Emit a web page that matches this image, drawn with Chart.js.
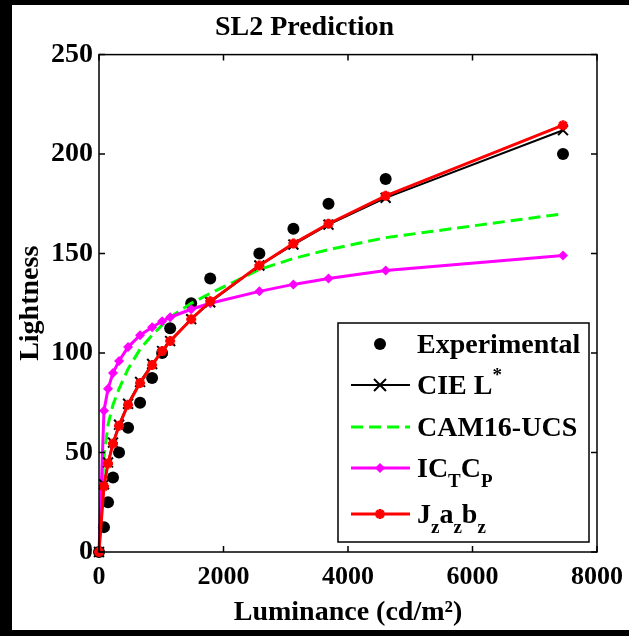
<!DOCTYPE html>
<html>
<head>
<meta charset="utf-8">
<script src="https://cdn.jsdelivr.net/npm/chart.js@4/dist/chart.umd.min.js"></script>
<style>
html, body { margin: 0; padding: 0; background: #000; }
#wrap { position: absolute; left: 12px; top: 5px; width: 617px; height: 625px; background: #fff; }
</style>
</head>
<body>
<div id="wrap"><canvas id="sl2Chart" width="617" height="625"></canvas></div>
<script>
// values
const luminance    = [0, 80, 145, 225, 322, 467, 660, 853, 1014, 1143, 1481, 1787, 2576, 3123, 3687, 4605, 7454];
const experimental = [0, 12.5, 25, 37.5, 50, 62.5, 75, 87.5, 100, 112.5, 125, 137.5, 150, 162.5, 175, 187.5, 200];
const cieL         = [0, 34, 45, 55, 64, 74.5, 85.5, 94.5, 101, 106, 117, 125.5, 144, 154.5, 164.5, 178, 212];
const cam16        = [0, 48, 64, 74, 82, 92, 102, 109, 114, 118, 125, 130, 142, 147.5, 152, 158, 170];
const ictcp        = [0, 71, 82, 90, 96, 103, 109, 113, 116, 118, 122, 125, 131, 134.5, 137.5, 141.5, 149];
const jzazbz       = [0, 33, 44.5, 54.5, 63.5, 74, 85, 94, 101, 106, 117, 126, 144, 155, 165, 179, 214.5];
const xTicks = [0, 2000, 4000, 6000, 8000];
const yTicks = [0, 50, 100, 150, 200, 250];

const FONT = '"Liberation Serif", "Times New Roman", serif';

function pts(ys) {
    return luminance.map((x, i) => ({ x: x, y: ys[i] }));
}

// legend entries, parts with sub/sup
const legendItems = [
    { parts: [['Experimental', 0]], kind: 'dot' },
    { parts: [['CIE L', 0], ['*', -1]], kind: 'cie' },
    { parts: [['CAM16-UCS', 0]], kind: 'cam' },
    { parts: [['IC', 0], ['T', 1], ['C', 0], ['P', 1]], kind: 'ictcp' },
    { parts: [['J', 0], ['z', 1], ['a', 0], ['z', 1], ['b', 0], ['z', 1]], kind: 'jz' }
];

function drawMarker(ctx, kind, x, y) {
    ctx.save();
    if (kind === 'dot') {
        ctx.fillStyle = '#000';
        ctx.beginPath(); ctx.arc(x, y, 6, 0, Math.PI * 2); ctx.fill();
    } else if (kind === 'cie') {
        ctx.strokeStyle = '#000'; ctx.lineWidth = 2;
        ctx.beginPath();
        ctx.moveTo(x - 6, y - 6); ctx.lineTo(x + 6, y + 6);
        ctx.moveTo(x - 6, y + 6); ctx.lineTo(x + 6, y - 6);
        ctx.stroke();
    } else if (kind === 'ictcp') {
        ctx.fillStyle = '#ff00ff';
        ctx.beginPath();
        ctx.moveTo(x, y - 5); ctx.lineTo(x + 5, y); ctx.lineTo(x, y + 5); ctx.lineTo(x - 5, y);
        ctx.closePath(); ctx.fill();
    } else if (kind === 'jz') {
        ctx.strokeStyle = '#ff0000'; ctx.lineWidth = 3;
        ctx.beginPath();
        for (let k = 0; k < 4; k++) {
            const a = k * Math.PI / 4;
            ctx.moveTo(x - 5 * Math.cos(a), y - 5 * Math.sin(a));
            ctx.lineTo(x + 5 * Math.cos(a), y + 5 * Math.sin(a));
        }
        ctx.stroke();
    }
    ctx.restore();
}

const boxPlugin = {
    id: 'boxPlugin',
    afterDraw(chart) {
        const ctx = chart.ctx;
        const a = chart.chartArea;
        const xs = chart.scales.x, ys = chart.scales.y;
        const tl = 6;
        ctx.save();
        ctx.strokeStyle = '#000';
        ctx.lineWidth = 1.5;
        ctx.strokeRect(a.left, a.top, a.right - a.left, a.bottom - a.top);
        ctx.beginPath();
        xTicks.forEach(v => {
            const px = xs.getPixelForValue(v);
            ctx.moveTo(px, a.bottom); ctx.lineTo(px, a.bottom - tl);
            ctx.moveTo(px, a.top); ctx.lineTo(px, a.top + tl);
        });
        yTicks.forEach(v => {
            const py = ys.getPixelForValue(v);
            ctx.moveTo(a.left, py); ctx.lineTo(a.left + tl, py);
            ctx.moveTo(a.right, py); ctx.lineTo(a.right - tl, py);
        });
        ctx.stroke();

        // legend box
        const w = 251, h = 219;
        const bx = a.right - 8 - w, by = a.bottom - 10 - h;
        ctx.fillStyle = '#fff';
        ctx.fillRect(bx, by, w, h);
        ctx.strokeRect(bx, by, w, h);
        const rows = [21, 62, 104, 145, 191];
        legendItems.forEach((it, i) => {
            const y = by + rows[i];
            if (it.kind !== 'dot') {
                ctx.save();
                ctx.lineWidth = it.kind === 'cie' ? 2 : 3;
                ctx.strokeStyle = { cie: '#000', cam: '#00ff00', ictcp: '#ff00ff', jz: '#ff0000' }[it.kind];
                if (it.kind === 'cam') ctx.setLineDash([12, 6]);
                ctx.beginPath();
                ctx.moveTo(bx + 13, y); ctx.lineTo(bx + 72, y);
                ctx.stroke();
                ctx.restore();
            }
            drawMarker(ctx, it.kind, bx + 42, y);
            let tx = bx + 79;
            ctx.fillStyle = '#000';
            ctx.textBaseline = 'alphabetic';
            it.parts.forEach(([t, pos]) => {
                const size = pos === 0 ? 28 : 19;
                ctx.font = 'bold ' + size + 'px ' + FONT;
                const ty = y + 9 + (pos === 1 ? 10 : pos === -1 ? -13 : 0);
                ctx.fillText(t, tx, ty);
                tx += ctx.measureText(t).width;
            });
        });
        ctx.restore();
    }
};

const ctx = document.getElementById('sl2Chart').getContext('2d');
const sl2Chart = new Chart(ctx, {
    type: 'scatter',
    data: {
        datasets: [
            {
                label: 'Jzazbz', data: pts(jzazbz), showLine: true,
                borderColor: '#ff0000', backgroundColor: '#ff0000', borderWidth: 3,
                pointStyle: 'star', pointRadius: 5, pointBorderWidth: 3, pointBorderColor: '#ff0000',
                order: 0, clip: false
            },
            {
                label: 'CIE L*', data: pts(cieL), showLine: true,
                borderColor: '#000', backgroundColor: '#000', borderWidth: 2,
                pointStyle: 'crossRot', pointRadius: 7, pointBorderWidth: 2,
                order: 1, clip: false
            },
            {
                label: 'ICtCp', data: pts(ictcp), showLine: true,
                borderColor: '#ff00ff', backgroundColor: '#ff00ff', borderWidth: 3,
                pointStyle: 'rectRot', pointRadius: 5, pointBorderWidth: 0,
                order: 2, clip: false
            },
            {
                label: 'CAM16-UCS', data: pts(cam16), showLine: true,
                borderColor: '#00ff00', borderWidth: 3, borderDash: [12, 6],
                pointRadius: 0,
                order: 3, clip: false
            },
            {
                label: 'Experimental', data: pts(experimental), showLine: false,
                backgroundColor: '#000', borderColor: '#000',
                pointStyle: 'circle', pointRadius: 6, pointBorderWidth: 0,
                order: 4, clip: false
            }
        ]
    },
    options: {
        responsive: false,
        animation: false,
        layout: { padding: { left: 0, right: 32, top: 0, bottom: 0 } },
        scales: {
            x: {
                type: 'linear', min: 0, max: 8000,
                grid: { display: false, drawTicks: false },
                border: { display: false },
                ticks: {
                    stepSize: 2000, padding: 10, color: '#000',
                    font: { family: FONT, size: 26, weight: 'bold' },
                    callback: function(value) {
                        return String(value);
                    }
                },
                title: {
                    display: true, text: 'Luminance (cd/m²)', color: '#000',
                    font: { family: FONT, size: 28, weight: 'bold' },
                    padding: { top: 0, bottom: 0 }
                },
                afterFit: function(scale) {
                    scale.height = 78;
                    scale.paddingLeft = 0;
                    scale.paddingRight = 0;
                }
            },
            y: {
                min: 0, max: 250,
                grid: { display: false, drawTicks: false },
                border: { display: false },
                ticks: {
                    stepSize: 50, padding: 6, color: '#000',
                    font: { family: FONT, size: 28, weight: 'bold' }
                },
                title: {
                    display: true, text: 'Lightness', color: '#000',
                    font: { family: FONT, size: 28, weight: 'bold' },
                    padding: { top: 2, bottom: 0 }
                },
                afterFit: function(scale) {
                    scale.width = 87;
                    scale.paddingTop = 0;
                    scale.paddingBottom = 0;
                }
            }
        },
        plugins: {
            legend: { display: false },
            tooltip: { enabled: false },
            title: {
                display: true, text: 'SL2 Prediction', color: '#000',
                font: { family: FONT, size: 28, weight: 'bold' },
                padding: { top: 6, bottom: 10 }
            }
        }
    },
    plugins: [boxPlugin]
});
</script>
</body>
</html>
